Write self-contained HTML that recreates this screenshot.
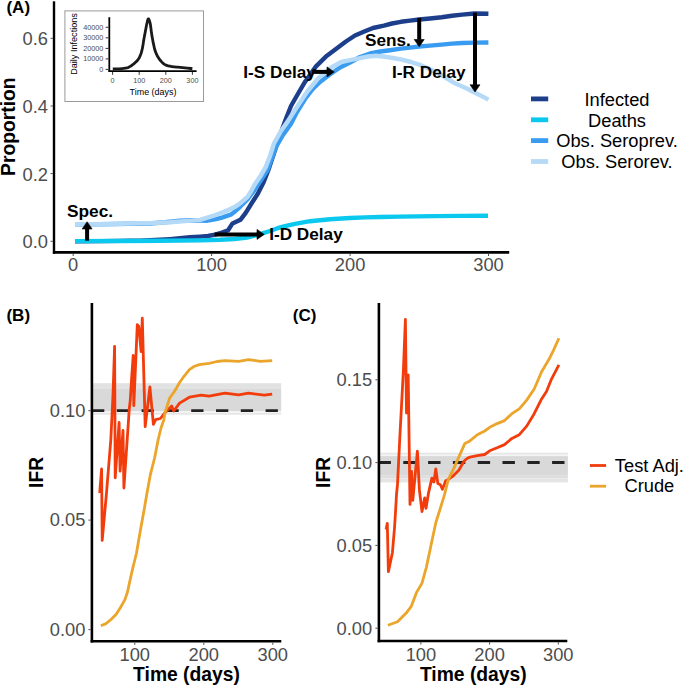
<!DOCTYPE html>
<html><head><meta charset="utf-8"><style>
html,body{margin:0;padding:0;background:#fff;}
body{width:685px;height:687px;overflow:hidden;}
svg{display:block;}
text{font-family:"Liberation Sans",sans-serif;}
text.b{font-weight:bold;}
</style></head><body>
<svg width="685" height="687" viewBox="0 0 685 687">
<text x="6.45" y="13.1" class="b" font-size="17">(A)</text>
<rect x="64.9" y="10.9" width="138.6" height="90.6" fill="#fff" stroke="#9a9a9a" stroke-width="1"/>
<line x1="109.3" y1="17.2" x2="109.3" y2="71.8" stroke="#000" stroke-width="1.8"/>
<line x1="108.4" y1="71.1" x2="196.6" y2="71.1" stroke="#000" stroke-width="1.8"/>
<line x1="105.6" y1="69.4" x2="108.4" y2="69.4" stroke="#333" stroke-width="1"/>
<text x="103.4" y="71.9" text-anchor="end" font-size="7.25" fill="#4D4D4D">0</text>
<line x1="105.6" y1="58.9" x2="108.4" y2="58.9" stroke="#333" stroke-width="1"/>
<text x="103.4" y="61.4" text-anchor="end" font-size="7.25" fill="#4D4D4D">10000</text>
<line x1="105.6" y1="48.4" x2="108.4" y2="48.4" stroke="#333" stroke-width="1"/>
<text x="103.4" y="50.9" text-anchor="end" font-size="7.25" fill="#4D4D4D">20000</text>
<line x1="105.6" y1="37.8" x2="108.4" y2="37.8" stroke="#333" stroke-width="1"/>
<text x="103.4" y="40.3" text-anchor="end" font-size="7.25" fill="#4D4D4D">30000</text>
<line x1="105.6" y1="27.3" x2="108.4" y2="27.3" stroke="#333" stroke-width="1"/>
<text x="103.4" y="29.8" text-anchor="end" font-size="7.25" fill="#4D4D4D">40000</text>
<line x1="112.6" y1="72" x2="112.6" y2="74.8" stroke="#333" stroke-width="1"/>
<text x="112.6" y="83.3" text-anchor="middle" font-size="7.25" fill="#4D4D4D">0</text>
<line x1="139.2" y1="72" x2="139.2" y2="74.8" stroke="#333" stroke-width="1"/>
<text x="139.2" y="83.3" text-anchor="middle" font-size="7.25" fill="#4D4D4D">100</text>
<line x1="165.8" y1="72" x2="165.8" y2="74.8" stroke="#333" stroke-width="1"/>
<text x="165.8" y="83.3" text-anchor="middle" font-size="7.25" fill="#4D4D4D">200</text>
<line x1="192.4" y1="72" x2="192.4" y2="74.8" stroke="#333" stroke-width="1"/>
<text x="192.4" y="83.3" text-anchor="middle" font-size="7.25" fill="#4D4D4D">300</text>
<text x="153" y="94.6" text-anchor="middle" font-size="8.93">Time (days)</text>
<text transform="translate(77.2,44) rotate(-90)" text-anchor="middle" font-size="9.1">Daily Infections</text>
<path d="M112.8,69.0 C114.9,68.9 114.7,69.1 119.0,68.8 C123.3,68.5 122.2,68.9 125.7,68.2 C129.2,67.5 127.2,68.0 129.5,66.8 C131.8,65.6 130.7,66.2 132.7,64.7 C134.7,63.2 133.6,64.1 135.5,62.3 C137.4,60.5 136.7,61.4 138.3,59.2 C139.9,57.0 139.0,58.4 140.2,55.6 C141.4,52.8 140.9,54.2 141.8,50.8 C142.7,47.4 142.2,49.2 142.9,45.5 C143.6,41.8 143.1,43.6 143.8,39.7 C144.5,35.8 144.2,37.5 144.9,33.8 C145.6,30.1 145.3,31.6 145.9,28.6 C146.5,25.6 146.1,27.1 146.6,24.8 C147.1,22.5 146.9,23.4 147.3,21.7 C147.7,20.0 147.5,20.5 147.9,19.6 C148.3,18.7 148.0,18.8 148.4,18.9 C148.8,19.0 148.5,18.5 149.1,19.9 C149.7,21.3 149.5,20.6 150.1,23.1 C150.7,25.6 150.3,24.3 150.8,27.5 C151.3,30.7 150.9,29.0 151.5,32.8 C152.1,36.6 151.8,35.1 152.5,38.8 C153.2,42.5 152.7,40.3 153.5,43.9 C154.3,47.5 153.9,46.3 154.8,49.5 C155.7,52.7 155.1,50.9 156.3,53.6 C157.5,56.3 156.9,55.2 158.3,57.5 C159.7,59.8 158.9,58.6 160.5,60.5 C162.1,62.4 161.2,61.7 163.0,63.2 C164.8,64.7 163.7,64.1 166.0,65.1 C168.3,66.1 167.2,65.6 170.0,66.2 C172.8,66.8 170.1,66.3 174.3,66.8 C178.5,67.3 176.7,67.0 182.7,67.6 C188.7,68.2 189.2,68.3 192.4,68.7" fill="none" stroke="#1a1a1a" stroke-width="2.8" stroke-linejoin="round"/>
<line x1="54" y1="1.3" x2="54" y2="253.8" stroke="#000" stroke-width="2.4"/>
<line x1="52.9" y1="252.3" x2="509.2" y2="252.3" stroke="#000" stroke-width="2.7"/>
<line x1="50.6" y1="241.3" x2="52.8" y2="241.3" stroke="#4D4D4D" stroke-width="1"/>
<text x="48" y="248.2" text-anchor="end" font-size="18.3" fill="#4D4D4D">0.0</text>
<line x1="50.6" y1="173.6" x2="52.8" y2="173.6" stroke="#4D4D4D" stroke-width="1"/>
<text x="48" y="180.5" text-anchor="end" font-size="18.3" fill="#4D4D4D">0.2</text>
<line x1="50.6" y1="106.0" x2="52.8" y2="106.0" stroke="#4D4D4D" stroke-width="1"/>
<text x="48" y="112.9" text-anchor="end" font-size="18.3" fill="#4D4D4D">0.4</text>
<line x1="50.6" y1="38.3" x2="52.8" y2="38.3" stroke="#4D4D4D" stroke-width="1"/>
<text x="48" y="45.2" text-anchor="end" font-size="18.3" fill="#4D4D4D">0.6</text>
<line x1="73.2" y1="253.8" x2="73.2" y2="256" stroke="#4D4D4D" stroke-width="1"/>
<text x="73.2" y="271.3" text-anchor="middle" font-size="18.3" fill="#4D4D4D">0</text>
<line x1="211.6" y1="253.8" x2="211.6" y2="256" stroke="#4D4D4D" stroke-width="1"/>
<text x="211.6" y="271.3" text-anchor="middle" font-size="18.3" fill="#4D4D4D">100</text>
<line x1="350.1" y1="253.8" x2="350.1" y2="256" stroke="#4D4D4D" stroke-width="1"/>
<text x="350.1" y="271.3" text-anchor="middle" font-size="18.3" fill="#4D4D4D">200</text>
<line x1="488.5" y1="253.8" x2="488.5" y2="256" stroke="#4D4D4D" stroke-width="1"/>
<text x="488.5" y="271.3" text-anchor="middle" font-size="18.3" fill="#4D4D4D">300</text>
<text transform="translate(14.8,126.7) rotate(-90)" text-anchor="middle" class="b" font-size="19.3">Proportion</text>
<polyline points="75.0,241.2 100.0,241.1 120.0,240.9 130.0,240.8 140.0,240.6 150.0,240.2 160.0,239.7 170.0,239.1 180.0,238.3 190.0,237.3 200.0,236.6 208.0,236.0 215.0,234.6 222.0,232.6 228.1,230.2 232.5,223.4 240.4,219.8 245.7,212.8 251.8,203.0 257.9,193.5 263.2,183.1 268.4,170.0 274.0,153.0 280.0,135.0 286.6,117.0 291.0,106.0 296.4,96.5 305.1,81.7 316.0,66.4 325.9,56.6 334.6,50.0 345.9,41.5 355.0,35.5 364.9,31.3 373.0,28.0 383.9,25.6 392.0,23.5 400.9,21.8 410.0,20.6 419.3,19.5 430.0,18.5 441.7,17.2 452.0,15.7 462.2,14.6 474.4,13.5 488.4,13.8" fill="none" stroke="#1D3F8B" stroke-width="4.4" stroke-linejoin="round"/>
<polyline points="75.0,241.1 120.0,241.0 160.0,240.8 200.0,240.4 220.0,239.8 234.4,239.0 247.0,237.5 260.0,234.2 270.0,231.0 277.5,228.2 285.0,226.2 295.0,223.8 310.0,221.2 330.0,219.3 350.0,218.0 365.0,217.4 380.0,217.0 400.0,216.6 435.0,216.1 460.0,215.9 488.0,215.8" fill="none" stroke="#0BC8EE" stroke-width="4.4" stroke-linejoin="round"/>
<polyline points="75.0,224.3 100.0,224.2 130.0,223.8 150.0,223.5 165.0,222.3 180.0,220.7 192.0,220.2 200.0,220.5 207.3,220.7 215.0,219.4 221.9,217.6 230.7,214.7 235.0,211.5 240.1,206.8 247.4,199.4 254.4,190.1 261.4,179.6 267.6,170.0 272.0,158.0 276.0,147.0 283.0,135.0 290.9,124.0 297.0,112.0 305.0,99.0 312.8,89.0 320.0,82.0 329.1,75.0 340.0,67.5 350.0,62.5 360.0,57.0 370.0,53.5 380.4,51.5 390.0,50.2 400.9,48.6 410.0,47.6 419.3,46.5 430.0,45.6 441.7,44.6 452.0,43.6 462.2,43.0 475.0,42.6 488.4,42.5" fill="none" stroke="#3A9CF0" stroke-width="4.4" stroke-linejoin="round"/>
<polyline points="75.0,224.3 100.0,224.2 130.0,223.6 140.0,223.2 150.0,223.1 170.0,222.2 188.0,220.9 200.0,219.9 214.6,215.3 222.0,212.6 229.2,209.6 235.0,206.8 240.1,203.4 247.4,197.0 251.0,191.5 254.4,184.9 260.5,176.1 265.9,166.6 270.0,156.0 274.0,143.3 281.0,131.0 288.6,120.0 296.4,107.9 307.3,91.5 318.2,78.4 331.3,67.5 341.2,62.0 350.0,60.2 360.0,58.2 368.0,56.5 376.0,55.8 385.0,56.8 393.0,58.0 400.9,59.3 411.0,62.0 421.3,65.4 431.5,69.9 443.4,76.3 455.0,83.3 466.7,88.5 476.1,93.2 488.5,99.6" fill="none" stroke="#B4DAF8" stroke-width="4.4" stroke-linejoin="round"/>
<line x1="87.1" y1="240.7" x2="87.1" y2="228.8" stroke="#000" stroke-width="4"/><polygon points="82.1,229.0 87.1,221.8 92.1,229.0" fill="#000" stroke="#000" stroke-width="0.6" stroke-linejoin="round"/>
<line x1="214.5" y1="234.4" x2="257.2" y2="234.4" stroke="#000" stroke-width="4"/><polygon points="257.0,229.4 264.2,234.4 257.0,239.4" fill="#000" stroke="#000" stroke-width="0.6" stroke-linejoin="round"/>
<line x1="312.3" y1="71.9" x2="327.2" y2="71.9" stroke="#000" stroke-width="4"/><polygon points="327.0,66.9 334.2,71.9 327.0,76.9" fill="#000" stroke="#000" stroke-width="0.6" stroke-linejoin="round"/>
<line x1="419.2" y1="17.9" x2="419.2" y2="39.7" stroke="#000" stroke-width="4"/><polygon points="414.2,39.5 419.2,46.7 424.2,39.5" fill="#000" stroke="#000" stroke-width="0.6" stroke-linejoin="round"/>
<line x1="475" y1="12.7" x2="475" y2="85" stroke="#000" stroke-width="4"/><polygon points="470,84.8 475,92 480,84.8" fill="#000" stroke="#000" stroke-width="0.6" stroke-linejoin="round"/>
<text x="67" y="216.5" class="b" font-size="17.3">Spec.</text>
<text x="243.3" y="78.4" class="b" font-size="17.2">I-S Delay</text>
<text x="365" y="46.1" class="b" font-size="17.2">Sens.</text>
<text x="392.1" y="78.2" class="b" font-size="17.2">I-R Delay</text>
<text x="269.2" y="239.8" class="b" font-size="17.2">I-D Delay</text>
<line x1="531" y1="98.9" x2="548.2" y2="98.9" stroke="#1D3F8B" stroke-width="4.8"/>
<text x="617" y="105.6" text-anchor="middle" font-size="18.3">Infected</text>
<line x1="531" y1="119.8" x2="548.2" y2="119.8" stroke="#0BC8EE" stroke-width="4.8"/>
<text x="617" y="126.5" text-anchor="middle" font-size="18.3">Deaths</text>
<line x1="531" y1="140.6" x2="548.2" y2="140.6" stroke="#3A9CF0" stroke-width="4.8"/>
<text x="617" y="147.3" text-anchor="middle" font-size="18.3">Obs. Seroprev.</text>
<line x1="531" y1="161.5" x2="548.2" y2="161.5" stroke="#B4DAF8" stroke-width="4.8"/>
<text x="617" y="168.2" text-anchor="middle" font-size="18.3">Obs. Serorev.</text>
<text x="6.45" y="321.4" class="b" font-size="17">(B)</text>
<rect x="93" y="383.2" width="188.2" height="5.2" fill="#E2E2E2"/>
<rect x="93" y="388.4" width="188.2" height="22.6" fill="#D9D9D9"/>
<rect x="93" y="411" width="188.2" height="1.9" fill="#F3F3F3"/>
<rect x="93" y="412.9" width="188.2" height="1.8" fill="#E6E6E6"/>
<line x1="92" y1="410.6" x2="281.3" y2="410.6" stroke="#222" stroke-width="2.8" stroke-dasharray="12.3 12.5"/>
<line x1="91.9" y1="302.9" x2="91.9" y2="642.5" stroke="#000" stroke-width="2.6"/>
<line x1="90.6" y1="641.3" x2="281.3" y2="641.3" stroke="#000" stroke-width="2.6"/>
<line x1="88.4" y1="629.6" x2="90.6" y2="629.6" stroke="#4D4D4D" stroke-width="1"/>
<text x="85.4" y="635.9" text-anchor="end" font-size="18.3" fill="#4D4D4D">0.00</text>
<line x1="88.4" y1="520.1" x2="90.6" y2="520.1" stroke="#4D4D4D" stroke-width="1"/>
<text x="85.4" y="526.4" text-anchor="end" font-size="18.3" fill="#4D4D4D">0.05</text>
<line x1="88.4" y1="410.7" x2="90.6" y2="410.7" stroke="#4D4D4D" stroke-width="1"/>
<text x="85.4" y="417.0" text-anchor="end" font-size="18.3" fill="#4D4D4D">0.10</text>
<line x1="134.8" y1="642.6" x2="134.8" y2="644.8" stroke="#4D4D4D" stroke-width="1"/>
<text x="134.8" y="660.8" text-anchor="middle" font-size="18.3" fill="#4D4D4D">100</text>
<line x1="203.8" y1="642.6" x2="203.8" y2="644.8" stroke="#4D4D4D" stroke-width="1"/>
<text x="203.8" y="660.8" text-anchor="middle" font-size="18.3" fill="#4D4D4D">200</text>
<line x1="272.8" y1="642.6" x2="272.8" y2="644.8" stroke="#4D4D4D" stroke-width="1"/>
<text x="272.8" y="660.8" text-anchor="middle" font-size="18.3" fill="#4D4D4D">300</text>
<text transform="translate(42.9,472.4) rotate(-90)" text-anchor="middle" class="b" font-size="19.3">IFR</text>
<text x="186.5" y="681.4" text-anchor="middle" class="b" font-size="19.3">Time (days)</text>
<polyline points="99.7,493.0 101.6,469.0 102.2,540.4 106.5,493.0 110.8,440.0 113.0,395.0 114.6,346.4 115.2,477.8 119.1,422.5 120.1,471.2 123.0,430.5 123.9,488.0 129.3,408.7 130.3,400.0 131.5,380.0 133.2,355.5 133.8,405.7 137.3,324.6 138.8,326.4 141.1,351.5 142.3,318.2 145.2,426.7 149.9,387.0 153.4,424.4 155.7,419.7 160.4,418.5 165.0,412.7 169.7,408.0 171.7,406.0 173.7,411.0 179.6,403.1 189.4,397.2 201.2,395.2 209.1,396.2 224.9,393.2 238.7,394.8 248.5,393.2 264.3,395.2 272.2,394.2" fill="none" stroke="#F23C0C" stroke-width="2.8" stroke-linejoin="round"/>
<polyline points="100.9,625.8 106.0,623.6 111.0,619.5 116.2,614.2 120.5,607.5 124.9,599.6 127.5,592.0 129.3,583.6 131.0,576.0 132.9,567.6 134.8,560.0 136.5,553.1 138.7,540.0 141.0,527.0 144.1,509.9 147.0,493.0 150.3,474.9 154.6,458.0 158.1,440.0 161.0,428.0 163.8,420.0 165.0,412.7 169.7,398.0 173.7,392.5 176.5,388.0 179.6,382.5 184.0,376.3 189.4,369.6 194.0,366.5 199.3,364.6 209.1,363.3 217.0,361.5 224.9,360.7 238.7,361.3 248.5,359.7 260.4,361.3 272.2,360.7" fill="none" stroke="#EAA52A" stroke-width="2.8" stroke-linejoin="round"/>
<text x="292.85" y="321.4" class="b" font-size="17">(C)</text>
<rect x="380" y="452.7" width="187.9" height="2.1" fill="#E6E6E6"/>
<rect x="380" y="454.8" width="187.9" height="1.3" fill="#F5F5F5"/>
<rect x="380" y="456.1" width="187.9" height="19" fill="#D9D9D9"/>
<rect x="380" y="475.1" width="187.9" height="3.3" fill="#DEDEDE"/>
<rect x="380" y="478.4" width="187.9" height="4" fill="#E4E4E4"/>
<line x1="378.5" y1="462.5" x2="567.5" y2="462.5" stroke="#222" stroke-width="2.8" stroke-dasharray="12.4 12.4"/>
<line x1="378.9" y1="302.9" x2="378.9" y2="642.3" stroke="#000" stroke-width="2.6"/>
<line x1="377.6" y1="641" x2="567.3" y2="641" stroke="#000" stroke-width="2.6"/>
<line x1="375.4" y1="628.2" x2="377.6" y2="628.2" stroke="#4D4D4D" stroke-width="1"/>
<text x="372.2" y="634.5" text-anchor="end" font-size="18.3" fill="#4D4D4D">0.00</text>
<line x1="375.4" y1="545.4" x2="377.6" y2="545.4" stroke="#4D4D4D" stroke-width="1"/>
<text x="372.2" y="551.7" text-anchor="end" font-size="18.3" fill="#4D4D4D">0.05</text>
<line x1="375.4" y1="462.6" x2="377.6" y2="462.6" stroke="#4D4D4D" stroke-width="1"/>
<text x="372.2" y="468.9" text-anchor="end" font-size="18.3" fill="#4D4D4D">0.10</text>
<line x1="375.4" y1="379.8" x2="377.6" y2="379.8" stroke="#4D4D4D" stroke-width="1"/>
<text x="372.2" y="386.1" text-anchor="end" font-size="18.3" fill="#4D4D4D">0.15</text>
<line x1="420.9" y1="642.3" x2="420.9" y2="644.5" stroke="#4D4D4D" stroke-width="1"/>
<text x="420.9" y="660.8" text-anchor="middle" font-size="18.3" fill="#4D4D4D">100</text>
<line x1="489.6" y1="642.3" x2="489.6" y2="644.5" stroke="#4D4D4D" stroke-width="1"/>
<text x="489.6" y="660.8" text-anchor="middle" font-size="18.3" fill="#4D4D4D">200</text>
<line x1="558.3" y1="642.3" x2="558.3" y2="644.5" stroke="#4D4D4D" stroke-width="1"/>
<text x="558.3" y="660.8" text-anchor="middle" font-size="18.3" fill="#4D4D4D">300</text>
<text transform="translate(329.6,472.4) rotate(-90)" text-anchor="middle" class="b" font-size="19.3">IFR</text>
<text x="473.3" y="681.4" text-anchor="middle" class="b" font-size="19.3">Time (days)</text>
<polyline points="386.1,529.5 387.3,523.3 388.4,571.6 392.4,552.7 394.5,528.0 395.7,509.0 396.5,494.5 397.5,484.4 399.7,440.0 403.4,370.0 405.4,319.5 406.5,413.0 408.2,375.0 410.0,504.4 411.5,471.5 412.8,500.4 417.4,451.2 419.4,489.9 422.0,511.6 424.7,497.8 426.0,508.3 428.6,492.6 431.9,478.1 433.9,482.0 435.8,468.9 437.8,483.4 440.4,484.7 442.4,489.3 445.7,480.7 448.3,479.4 453.6,475.5 458.8,470.2 464.1,461.0 467.4,458.2 470.0,457.1 477.3,455.7 484.7,454.5 489.7,450.8 497.1,447.8 504.5,444.6 511.9,438.4 519.3,434.7 526.7,426.1 534.2,413.7 541.6,398.9 546.5,391.5 551.5,379.1 558.9,364.8" fill="none" stroke="#F23C0C" stroke-width="2.8" stroke-linejoin="round"/>
<polyline points="387.9,625.3 397.5,621.8 406.2,613.1 411.4,606.1 416.7,592.1 421.9,583.4 426.3,567.6 430.7,546.7 435.9,522.2 439.1,512.3 444.4,495.2 448.3,479.4 453.6,468.9 458.8,457.1 464.9,443.4 469.9,440.9 477.3,434.7 484.7,431.0 489.7,427.3 497.1,423.6 504.5,420.6 511.9,413.7 519.3,408.8 526.7,400.1 534.2,389.0 541.6,371.7 549.0,359.3 553.9,349.4 558.9,338.3" fill="none" stroke="#EAA52A" stroke-width="2.8" stroke-linejoin="round"/>
<line x1="589.9" y1="465.5" x2="606.1" y2="465.5" stroke="#F23C0C" stroke-width="2.8"/>
<line x1="589.9" y1="486.2" x2="606.1" y2="486.2" stroke="#EAA52A" stroke-width="2.8"/>
<text x="649.4" y="471.6" text-anchor="middle" font-size="18.3">Test Adj.</text>
<text x="649.4" y="492.4" text-anchor="middle" font-size="18.3">Crude</text>
</svg>
</body></html>
